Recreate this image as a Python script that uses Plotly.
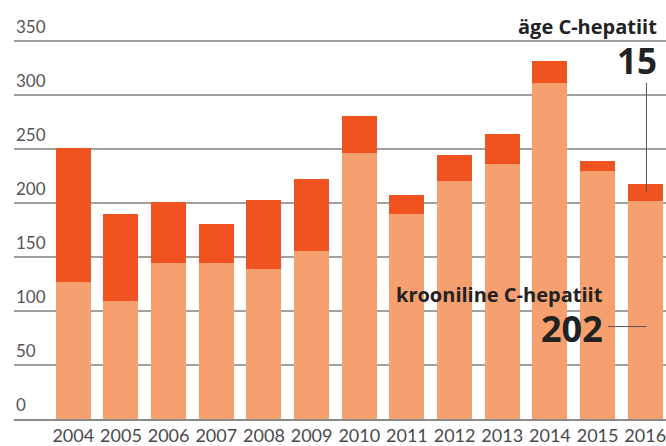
import plotly.graph_objects as go

years = ["2004", "2005", "2006", "2007", "2008", "2009", "2010",
         "2011", "2012", "2013", "2014", "2015", "2016"]
chronic = [127, 109, 144, 144, 139, 155, 246, 190, 220, 236, 311, 229, 202]
acute = [124, 81, 57, 36, 64, 67, 34, 17, 24, 28, 20, 10, 15]
y_ticks = [0, 50, 100, 150, 200, 250, 300, 350]

LIGHT = "#F6A070"
DARK = "#F0531F"
TEXT = "#222222"

fig = go.Figure()
fig.add_bar(x=years, y=chronic, marker=dict(color=LIGHT, line=dict(width=0)),
            name="krooniline C-hepatiit")
fig.add_bar(x=years, y=acute, marker=dict(color=DARK, line=dict(width=0)),
            name="äge C-hepatiit")

last = len(years) - 1
fig.update_layout(
    barmode="stack",
    bargap=0.266,
    width=666, height=446,
    margin=dict(l=14, r=0, t=19, b=27, autoexpand=False),
    paper_bgcolor="white", plot_bgcolor="white",
    showlegend=False,
    xaxis=dict(
        type="category",
        range=[-1.244, 12.436],
        showgrid=False,
        showline=True, linecolor="#8a8a8a", linewidth=1.5,
        ticks="",
        ticklabelstandoff=0,
        tickfont=dict(family="Lato", size=18, color="#4a4a4a"),
    ),
    yaxis=dict(
        range=[0, 370],
        tickvals=y_ticks,
        showticklabels=False,
        showgrid=True, gridcolor="#a0a0a0", gridwidth=1.5,
        zeroline=False,
    ),
)

for v in y_ticks:
    fig.add_annotation(x=0, xref="paper", xanchor="left", y=v, yref="y",
                       yanchor="bottom", yshift=2, text=str(v), showarrow=False,
                       font=dict(family="Lato", size=17, color="#555555"))

# labels
fig.add_annotation(x=0.99, xref="paper", xanchor="right", y=363, yref="y",
                   yanchor="middle", text="<b>äge C-hepatiit</b>", showarrow=False,
                   font=dict(family="Open Sans", size=20, color=TEXT))
fig.add_annotation(x=0.99, xref="paper", xanchor="right", y=332,
                   yref="y", yanchor="middle", text="<b>%d</b>" % acute[last], showarrow=False,
                   font=dict(family="Open Sans", size=35, color=TEXT))
fig.add_annotation(x=0.906, xref="paper", xanchor="right", y=115, yref="y",
                   yanchor="middle", text="<b>krooniline C-hepatiit</b>", showarrow=False,
                   font=dict(family="Open Sans", size=20, color=TEXT))
fig.add_annotation(x=0.906, xref="paper", xanchor="right", y=84, yref="y",
                   yanchor="middle", text="<b>%d</b>" % chronic[last], showarrow=False,
                   font=dict(family="Open Sans", size=36, color=TEXT))

fig.add_shape(type="line", xref="paper", yref="y", x0=0.970, x1=0.970, y0=311, y1=210,
              line=dict(color="#555555", width=1))
fig.add_shape(type="line", xref="paper", yref="y", x0=0.911, x1=0.970, y0=85.5, y1=85.5,
              line=dict(color="#555555", width=1))

fig.write_html("out.html", config={"displayModeBar": False},
               post_script="document.body.style.margin='0';document.body.style.overflow='hidden';")
